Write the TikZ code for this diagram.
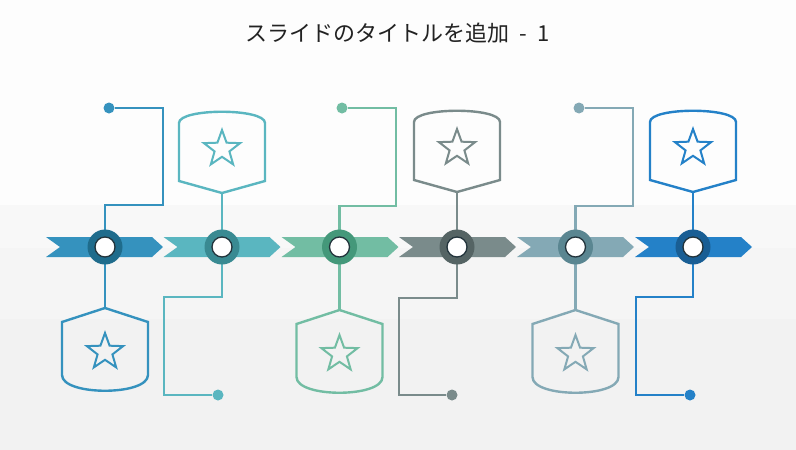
\documentclass[tikz,border=0pt]{standalone}
\usepackage{fontspec}
\newfontfamily\jpfont{Noto Sans CJK JP}
\usetikzlibrary{calc}
\definecolor{bgA}{HTML}{FDFDFD}
\definecolor{bgB}{HTML}{F8F8F8}
\definecolor{bgC}{HTML}{F5F5F5}
\definecolor{bgD}{HTML}{F2F2F2}
\definecolor{colA}{HTML}{3592BE}\definecolor{ringA}{HTML}{1F6C8C}
\definecolor{colB}{HTML}{5AB6C0}\definecolor{ringB}{HTML}{398A92}
\definecolor{colC}{HTML}{72BDA3}\definecolor{ringC}{HTML}{44987A}
\definecolor{colD}{HTML}{7A8B8B}\definecolor{ringD}{HTML}{556464}
\definecolor{colE}{HTML}{84A9B5}\definecolor{ringE}{HTML}{5A8691}
\definecolor{colF}{HTML}{2481C8}\definecolor{ringF}{HTML}{195E94}
\definecolor{innerdark}{HTML}{23343C}
\definecolor{titlecol}{HTML}{222222}
\tikzset{
  conn/.style={line width=2.4pt, line join=miter},
  badge/.style={circle, fill=#1, minimum size=35pt, inner sep=0pt},
  hole/.style={circle, fill=white, draw=innerdark, line width=1.3pt, minimum size=20pt, inner sep=0pt},
  enddot/.style={circle, fill=#1, minimum size=11pt, inner sep=0pt},
  lowershield/.pic={
    \draw[line width=2.4pt, line join=miter]
      (0,0) -- (-43,14) -- (-43,67) .. controls (-43,88) and (43,88) .. (43,67) -- (43,14) -- cycle;
    \draw[line width=2pt, line join=miter]
      ($(0,44)+(-90:19)$) \foreach \a in {1,...,9} { -- ($(0,44)+({-90+36*\a}:{ifthenelse(mod(\a,2)==1,7.8,19)})$) } -- cycle;
  },
  uppershield/.pic={
    \draw[line width=2.4pt, line join=miter]
      (0,0) -- (-43,-12) -- (-43,-70) .. controls (-43,-85) and (43,-85) .. (43,-70) -- (43,-12) -- cycle;
    \draw[line width=2pt, line join=miter]
      ($(0,-44)+(-90:19)$) \foreach \a in {1,...,9} { -- ($(0,-44)+({-90+36*\a}:{ifthenelse(mod(\a,2)==1,7.8,19)})$) } -- cycle;
  },
}
\newcommand{\chev}[2]{\fill[#2] (#1,237) -- ++(106,0) -- ++(11,10) -- ++(-11,10) -- ++(-106,0) -- ++(14,-10) -- cycle;}
\begin{document}
\begin{tikzpicture}[x=1pt,y=-1pt]
\useasboundingbox (0,0) rectangle (796,450);
% background bands
\fill[bgA] (0,0) rectangle (796,205);
\fill[bgB] (0,205) rectangle (796,248);
\fill[bgC] (0,248) rectangle (796,319);
\fill[bgD] (0,319) rectangle (796,450);
% title
\node[font=\jpfont\fontsize{22}{26}\selectfont, text=titlecol] (title) at (397.5,33) {スライドのタイトルを追加\hspace{0.45em}-\hspace{0.45em}1};
% badge positions
\coordinate (p1) at (105,247);
\coordinate (p2) at (222,247);
\coordinate (p3) at (339.5,247);
\coordinate (p4) at (457,247);
\coordinate (p5) at (575.5,247);
\coordinate (p6) at (693,247);
% end dots
\node[enddot=colA] (d1) at (109,108) {};
\node[enddot=colB] (d2) at (218,395) {};
\node[enddot=colC] (d3) at (342,108) {};
\node[enddot=colD] (d4) at (452,395) {};
\node[enddot=colE] (d5) at (579,108) {};
\node[enddot=colF] (d6) at (690,395) {};
% shield apex coordinates
\coordinate (s1) at (105,308);
\coordinate (s2) at (222,193);
\coordinate (s3) at (339.5,310);
\coordinate (s4) at (457,192);
\coordinate (s5) at (575.5,310);
\coordinate (s6) at (693,192);
% connectors
\draw[conn, colA] (p1) |- (163,205) |- (d1);
\draw[conn, colA] (p1) -- (s1);
\draw[conn, colB] (p2) |- (164,297) |- (d2);
\draw[conn, colB] (p2) -- (s2);
\draw[conn, colC] (p3) |- (396,206) |- (d3);
\draw[conn, colC] (p3) -- (s3);
\draw[conn, colD] (p4) |- (399,298) |- (d4);
\draw[conn, colD] (p4) -- (s4);
\draw[conn, colE] (p5) |- (633,206) |- (d5);
\draw[conn, colE] (p5) -- (s5);
\draw[conn, colF] (p6) |- (636,297) |- (d6);
\draw[conn, colF] (p6) -- (s6);
% shields
\pic[colA] at (s1) {lowershield};
\pic[colB] at (s2) {uppershield};
\pic[colC] at (s3) {lowershield};
\pic[colD] at (s4) {uppershield};
\pic[colE] at (s5) {lowershield};
\pic[colF] at (s6) {uppershield};
% chevrons
\chev{46}{colA}
\chev{163.5}{colB}
\chev{281.5}{colC}
\chev{399}{colD}
\chev{517}{colE}
\chev{635}{colF}
% badges
\node[badge=ringA] (c1) at (p1) {};
\node[badge=ringB] (c2) at (p2) {};
\node[badge=ringC] (c3) at (p3) {};
\node[badge=ringD] (c4) at (p4) {};
\node[badge=ringE] (c5) at (p5) {};
\node[badge=ringF] (c6) at (p6) {};
\foreach \i in {1,...,6} { \node[hole] (h\i) at (p\i) {}; }
\end{tikzpicture}
\end{document}
